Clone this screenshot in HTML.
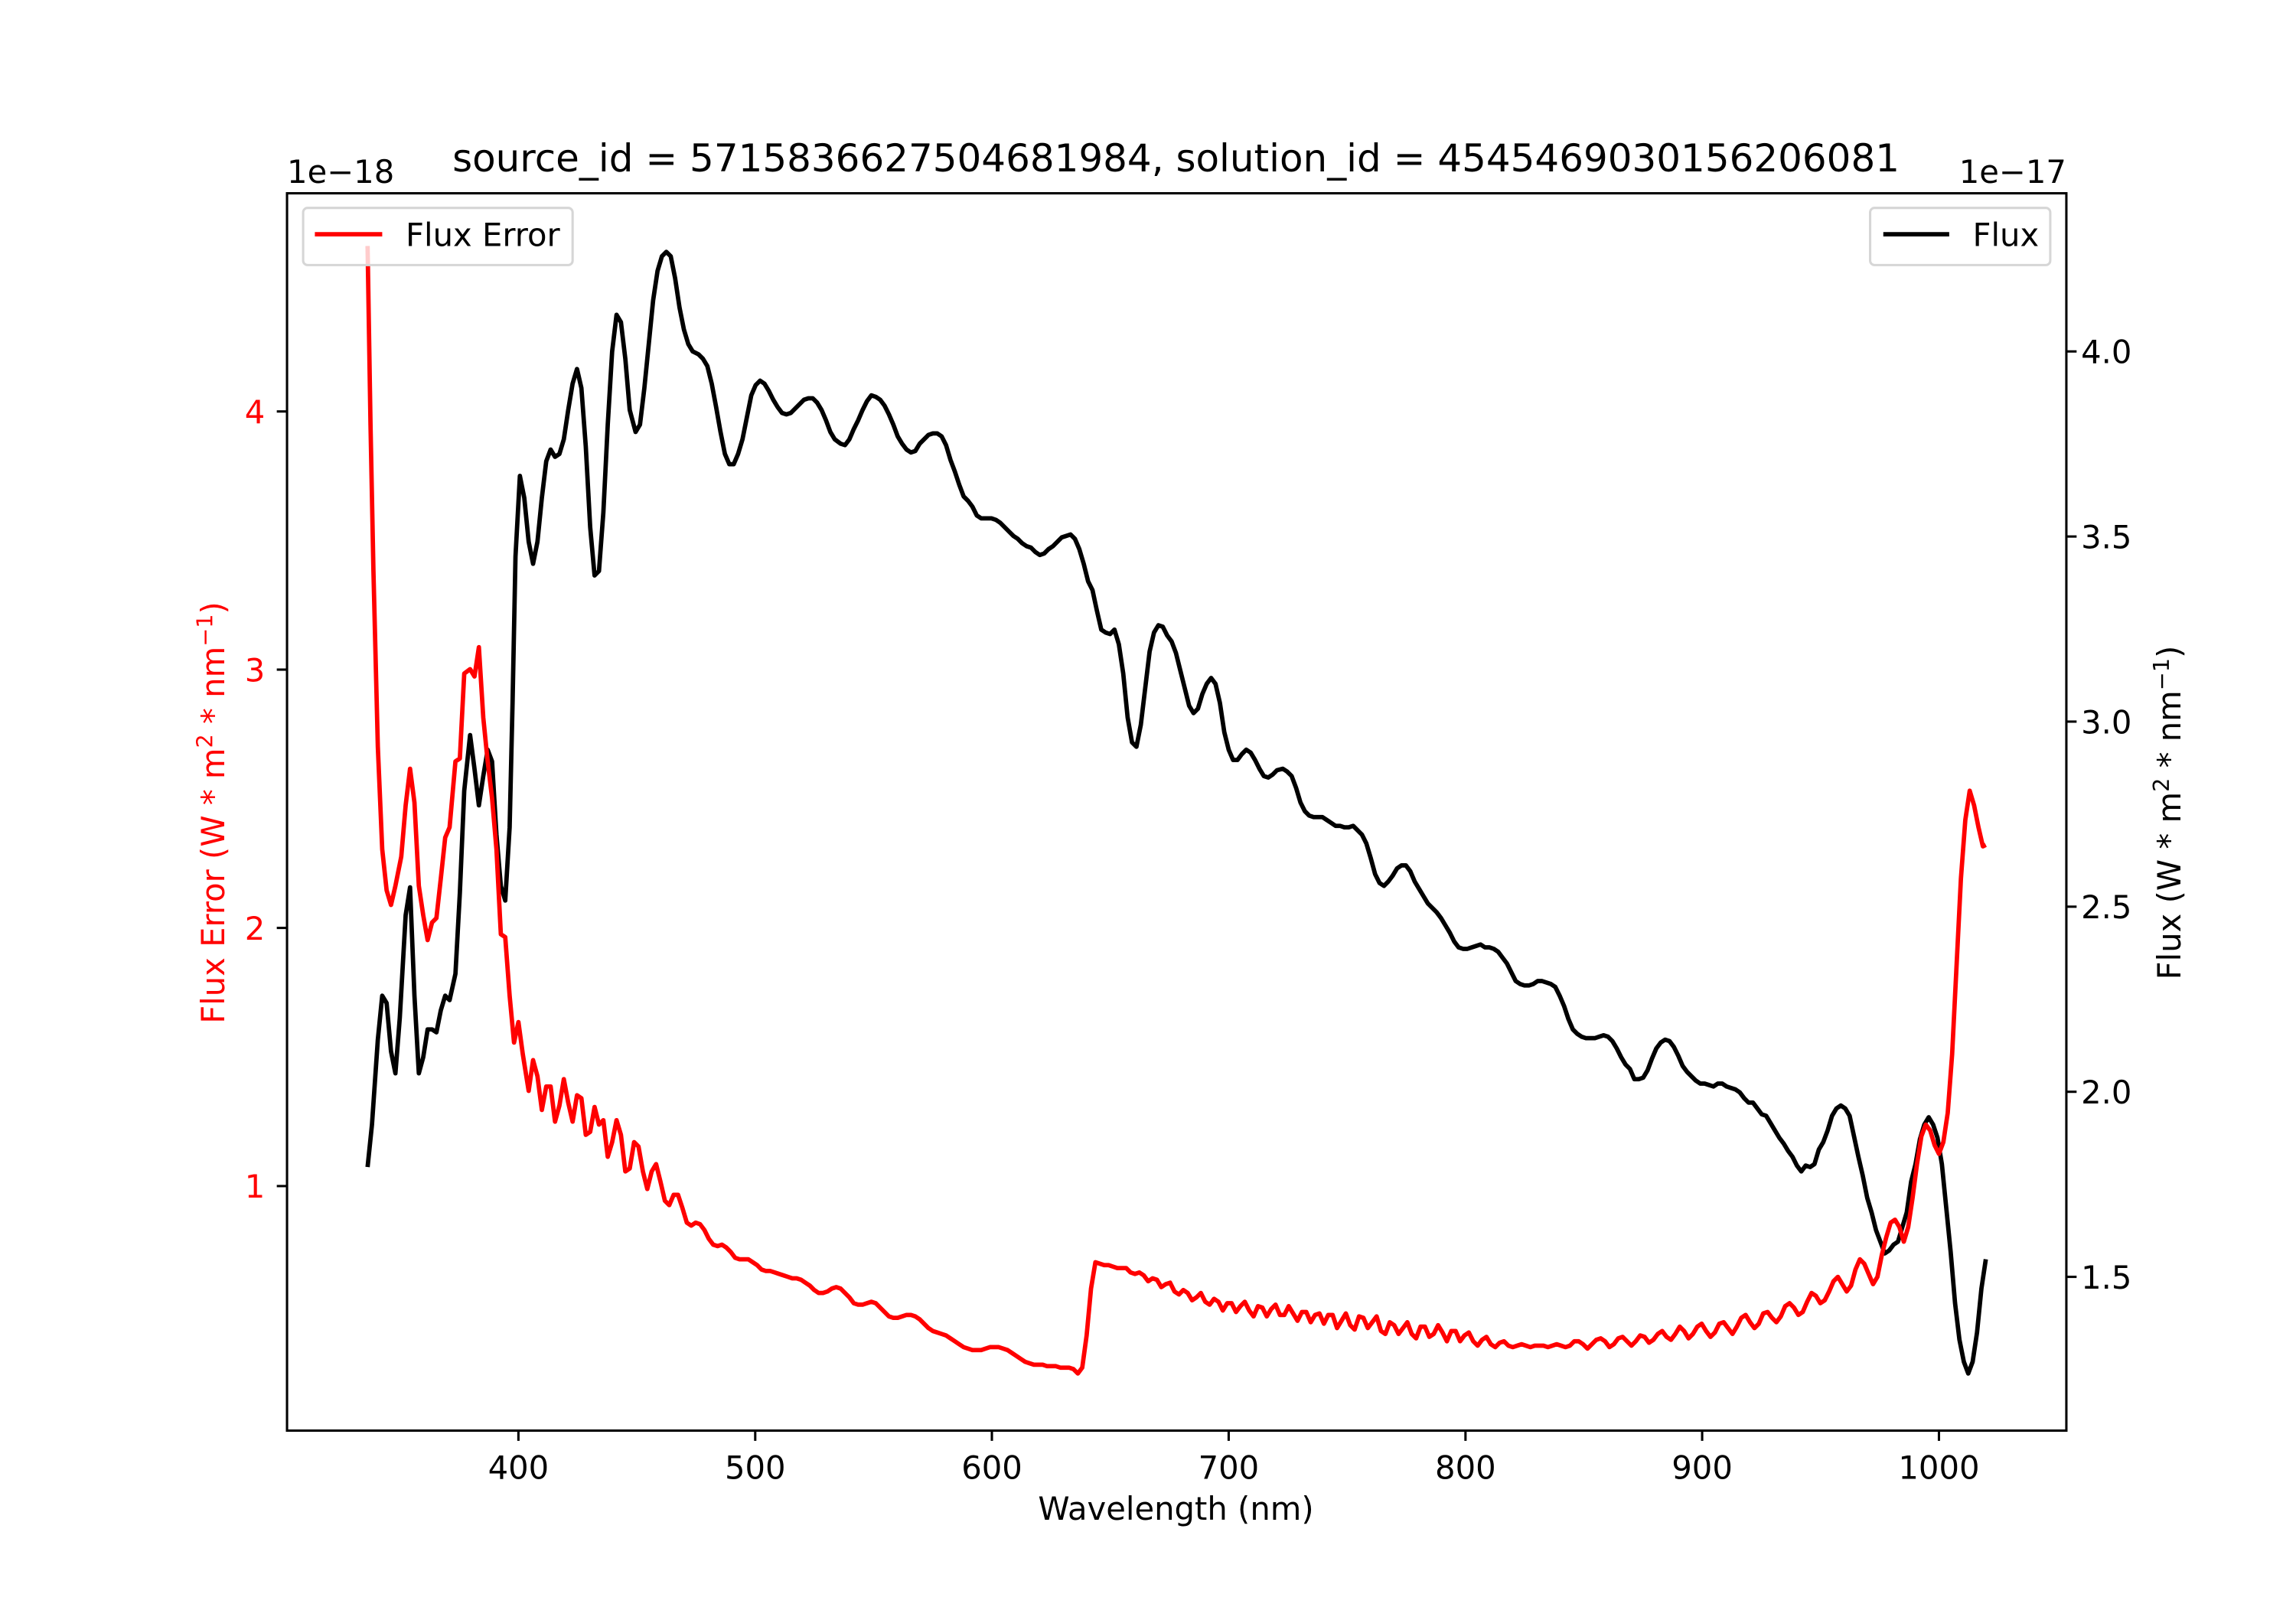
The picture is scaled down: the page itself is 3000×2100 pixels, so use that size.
<!DOCTYPE html>
<html><head><meta charset="utf-8"><style>html,body{margin:0;padding:0;background:#fff}svg{display:block}</style></head>
<body>
<svg width="3000" height="2100" viewBox="0 0 3000 2100" xmlns="http://www.w3.org/2000/svg">
<rect width="3000" height="2100" fill="#fff"/>
<g transform="scale(1.9135)" font-family="DejaVu Sans, Liberation Sans, sans-serif" font-size="21.8">
<!-- curves -->
<polyline fill="none" stroke="#000" stroke-width="3" stroke-linejoin="round" points="251,797 254,768 258,710 261,680 264,685 267,718 270,733 273,695 277,625 280,606 283,680 286,733 289,722 292,703 295,703 298,705 301,690 304,680 307,683 311,665 314,610 317,540 321,502 324,525 327,550 330,530 333,512 336,520 339,570 342,605 345,615 348,565 350,480 352,380 355,325 358,340 361,370 364,385 367,370 370,340 373,315 376,307 379,312 382,310 385,300 388,280 391,262 394,252 397,265 400,305 403,360 406,393 409,390 412,350 415,290 418,240 421,215 424,220 427,245 430,280 434,295 437,290 440,265 443,235 446,205 449,185 452,175 455,172 458,175 461,190 464,210 467,225 470,235 473,240 477,242 480,245 483,250 486,262 489,278 492,295 495,310 498,317 501,317 504,310 507,300 510,285 513,270 516,263 519,260 522,262 525,267 528,273 531,278 534,282 537,283 540,282 543,279 546,276 549,273 552,272 555,272 558,275 561,280 564,287 567,295 570,300 574,303 577,304 580,300 583,293 586,287 589,280 592,274 595,270 598,271 601,273 604,277 607,283 610,290 613,298 616,303 619,307 622,309 625,308 628,303 631,300 634,297 637,296 640,296 643,298 646,304 649,314 652,322 655,331 658,339 661,342 664,346 667,352 670,354 674,354 677,354 680,355 683,357 686,360 689,363 692,366 695,368 698,371 701,373 704,374 707,377 710,379 713,378 716,375 719,373 722,370 725,367 728,366 731,365 734,368 737,375 740,385 743,397 746,403 749,417 752,430 755,432 758,433 761,430 764,440 767,460 770,490 773,507 776,510 779,495 782,470 785,445 788,432 791,427 794,428 797,434 800,438 803,446 806,458 809,470 812,482 815,487 818,484 821,474 824,467 827,463 830,467 833,480 836,500 839,512 842,519 845,519 848,515 851,512 854,514 857,519 860,525 863,530 866,531 869,529 872,526 876,525 879,527 882,530 885,538 888,548 891,554 894,557 897,558 900,558 903,558 906,560 909,562 912,564 915,564 918,565 921,565 924,564 927,567 930,570 933,576 936,586 939,597 942,603 945,605 948,602 951,598 954,593 957,591 960,591 963,595 966,602 969,607 972,612 975,617 978,620 981,623 984,627 987,632 990,637 993,643 996,647 999,648 1002,648 1005,647 1008,646 1011,645 1014,647 1017,647 1020,648 1023,650 1026,654 1029,658 1032,664 1035,670 1038,672 1041,673 1044,673 1047,672 1050,670 1053,670 1056,671 1059,672 1062,674 1065,680 1068,687 1071,696 1074,703 1077,706 1080,708 1083,709 1086,709 1089,709 1092,708 1095,707 1098,708 1101,711 1104,716 1107,722 1110,727 1113,730 1116,737 1119,737 1122,736 1125,731 1128,723 1131,716 1134,712 1137,710 1140,711 1143,715 1146,721 1149,728 1152,732 1155,735 1158,738 1161,740 1164,740 1167,741 1170,742 1173,740 1176,740 1179,742 1182,743 1185,744 1188,746 1191,750 1194,753 1197,753 1200,757 1203,761 1206,762 1209,767 1212,772 1215,777 1218,781 1221,786 1224,790 1227,796 1230,800 1233,796 1236,797 1239,795 1242,785 1245,780 1248,772 1251,762 1254,757 1257,755 1260,757 1263,762 1266,776 1269,790 1272,803 1275,818 1278,828 1281,840 1284,848 1287,856 1290,854 1293,850 1296,848 1299,838 1302,828 1305,807 1308,795 1311,778 1314,768 1317,763 1320,768 1323,777 1326,795 1329,825 1332,855 1335,890 1338,915 1341,930 1344,938 1347,930 1350,910 1353,880 1356,860"/>
<polyline fill="none" stroke="#f00" stroke-width="3" stroke-linejoin="round" points="251,168 253,290 255,390 258,510 261,580 264,608 267,618 270,605 274,585 277,550 280,525 283,548 286,605 289,625 292,642 295,630 298,627 301,600 304,572 307,565 311,520 314,518 317,460 321,457 324,462 327,442 330,490 333,520 336,545 339,580 342,638 345,640 348,680 351,712 354,698 357,720 361,745 364,724 367,735 370,758 373,742 376,742 379,766 382,755 385,737 388,753 391,766 394,748 397,750 400,775 403,773 406,756 409,768 412,765 415,790 418,780 421,765 424,775 427,800 430,798 433,780 436,783 439,800 442,812 445,800 448,795 451,807 454,820 457,823 460,816 463,816 466,825 469,835 472,837 475,835 478,836 481,840 484,846 487,850 490,851 493,850 496,852 499,855 502,859 505,860 508,860 511,860 514,862 517,864 520,867 523,868 526,868 529,869 532,870 535,871 538,872 541,873 544,873 547,874 550,876 553,878 556,881 559,883 562,883 565,882 568,880 571,879 574,880 577,883 580,886 583,890 586,891 589,891 592,890 595,889 598,890 601,893 604,896 607,899 610,900 613,900 616,899 619,898 622,898 625,899 628,901 631,904 634,907 637,909 640,910 643,911 646,912 649,914 652,916 655,918 658,920 661,921 664,922 667,922 670,922 673,921 676,920 679,920 682,920 685,921 688,922 691,924 694,926 697,928 700,930 703,931 706,932 709,932 712,932 715,933 718,933 721,933 724,934 727,934 730,934 733,935 736,938 739,934 742,912 745,880 748,862 751,863 754,864 757,864 760,865 763,866 766,866 769,866 772,869 775,870 778,869 781,871 784,875 787,873 790,874 793,879 796,877 799,876 802,882 805,884 808,881 811,883 814,888 817,886 820,883 823,889 826,891 829,887 832,889 835,895 838,890 841,890 844,896 847,892 850,889 853,895 856,899 859,892 862,893 865,899 868,894 871,891 874,898 877,898 880,892 883,897 886,902 889,896 892,896 895,903 898,898 901,897 904,904 907,898 910,898 913,907 916,902 919,897 922,905 925,908 928,899 931,900 934,907 937,903 940,899 943,909 946,911 949,903 952,905 955,911 958,907 961,903 964,911 967,914 970,906 973,906 976,913 979,911 982,905 985,910 988,916 991,909 994,909 997,916 1000,912 1003,910 1006,916 1009,919 1012,915 1015,913 1018,918 1021,920 1024,917 1027,916 1030,919 1033,920 1036,919 1039,918 1042,919 1045,920 1048,919 1051,919 1054,919 1057,920 1060,919 1063,918 1066,919 1069,920 1072,919 1075,916 1078,916 1081,918 1084,921 1087,918 1090,915 1093,914 1096,916 1099,920 1102,918 1105,914 1108,913 1111,916 1114,919 1117,916 1120,912 1123,913 1126,917 1129,915 1132,911 1135,909 1138,913 1141,915 1144,911 1147,906 1150,909 1153,914 1156,911 1159,906 1162,904 1165,909 1168,913 1171,910 1174,904 1177,903 1180,907 1183,911 1186,906 1189,900 1192,898 1195,903 1198,907 1201,904 1204,897 1207,896 1210,900 1213,903 1216,899 1219,892 1222,890 1225,893 1228,898 1231,896 1234,889 1237,883 1240,885 1243,890 1246,888 1249,882 1252,875 1255,872 1258,877 1261,882 1264,878 1267,867 1270,860 1273,863 1276,870 1279,877 1282,872 1285,857 1288,845 1291,835 1294,833 1297,838 1300,848 1303,838 1306,818 1309,795 1312,776 1315,768 1318,772 1321,782 1324,788 1327,780 1330,760 1333,720 1336,660 1339,600 1342,560 1345,540 1348,550 1351,565 1354,578 1356,577"/>
<!-- axes frame -->
<rect x="196" y="132" width="1215" height="845" fill="none" stroke="#000" stroke-width="1.6"/>
<!-- x ticks -->
<g stroke="#000" stroke-width="1.6">
<line x1="354" y1="977" x2="354" y2="984"/><line x1="515.7" y1="977" x2="515.7" y2="984"/><line x1="677.3" y1="977" x2="677.3" y2="984"/><line x1="839" y1="977" x2="839" y2="984"/><line x1="1000.7" y1="977" x2="1000.7" y2="984"/><line x1="1162.3" y1="977" x2="1162.3" y2="984"/><line x1="1324" y1="977" x2="1324" y2="984"/>
<line x1="189" y1="810" x2="196" y2="810" stroke="#000"/><line x1="189" y1="633.7" x2="196" y2="633.7"/><line x1="189" y1="457.3" x2="196" y2="457.3"/><line x1="189" y1="281" x2="196" y2="281"/>
<line x1="1411" y1="872" x2="1418" y2="872"/><line x1="1411" y1="745.6" x2="1418" y2="745.6"/><line x1="1411" y1="619.2" x2="1418" y2="619.2"/><line x1="1411" y1="492.8" x2="1418" y2="492.8"/><line x1="1411" y1="366.4" x2="1418" y2="366.4"/><line x1="1411" y1="240" x2="1418" y2="240"/>
</g>
<g text-anchor="middle" fill="#000">
<text x="354" y="1010">400</text><text x="515.7" y="1010">500</text><text x="677.3" y="1010">600</text><text x="839" y="1010">700</text><text x="1000.7" y="1010">800</text><text x="1162.3" y="1010">900</text><text x="1324" y="1010">1000</text>
<text x="803" y="1038">Wavelength (nm)</text>
<text x="803" y="117" font-size="26.1">source_id = 5715836627504681984, solution_id = 4545469030156206081</text>
</g>
<g text-anchor="end" fill="#f00">
<text x="181" y="818">1</text><text x="181" y="641.7">2</text><text x="181" y="465.3">3</text><text x="181" y="289">4</text>
</g>
<g fill="#000">
<text x="1421" y="880">1.5</text><text x="1421" y="753.6">2.0</text><text x="1421" y="627.2">2.5</text><text x="1421" y="500.8">3.0</text><text x="1421" y="374.4">3.5</text><text x="1421" y="248">4.0</text>
<text x="196" y="125">1e−18</text>
<text x="1411" y="125" text-anchor="end">1e−17</text>
</g>
<text transform="translate(153,555) rotate(-90)" text-anchor="middle" fill="#f00">Flux Error (W * m<tspan font-size="15" dy="-8">2</tspan><tspan dy="8"> * nm</tspan><tspan font-size="15" dy="-8">−1</tspan><tspan dy="8">)</tspan></text>
<text transform="translate(1489,555) rotate(-90)" text-anchor="middle" fill="#000">Flux (W * m<tspan font-size="15" dy="-8">2</tspan><tspan dy="8"> * nm</tspan><tspan font-size="15" dy="-8">−1</tspan><tspan dy="8">)</tspan></text>
<!-- legends -->
<rect x="207" y="142" width="184" height="39" rx="3" fill="#fff" fill-opacity="0.8" stroke="#d6d6d6" stroke-width="1.6"/>
<line x1="215" y1="160" x2="261" y2="160" stroke="#f00" stroke-width="3"/>
<text x="277" y="168">Flux Error</text>
<rect x="1277" y="142" width="123" height="39" rx="3" fill="#fff" fill-opacity="0.8" stroke="#d6d6d6" stroke-width="1.6"/>
<line x1="1286" y1="160" x2="1331" y2="160" stroke="#000" stroke-width="3"/>
<text x="1347" y="168">Flux</text>
</g>
</svg>
</body></html>
